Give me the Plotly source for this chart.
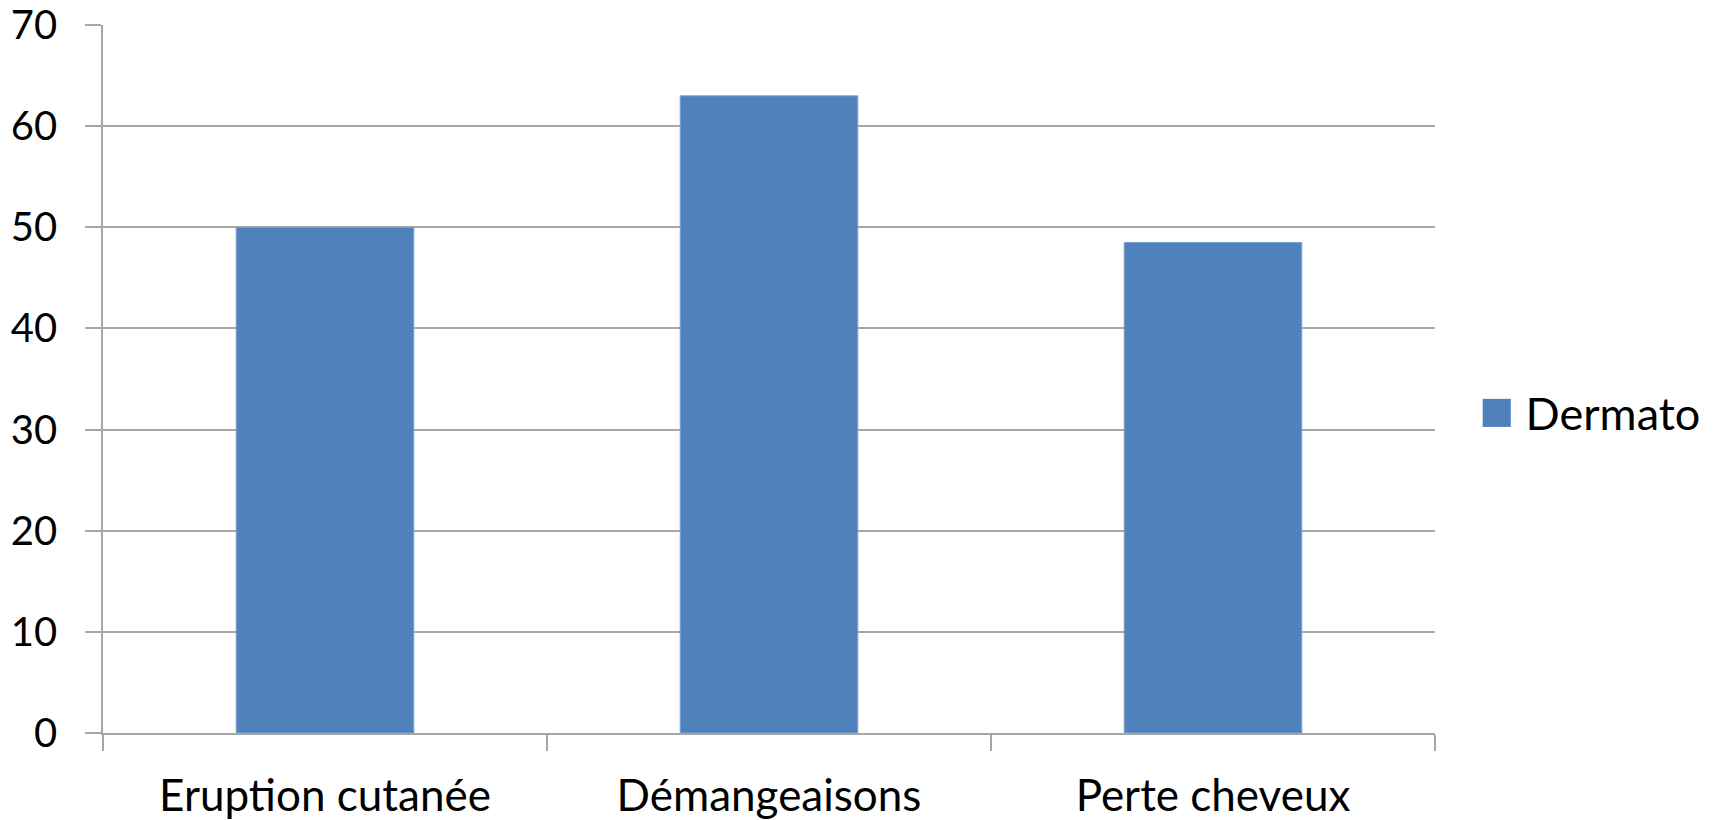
import plotly.graph_objects as go

categories = ["Eruption cutanée", "Démangeaisons", "Perte cheveux"]
values = [50, 63, 48.5]
series_name = "Dermato"
y_ticks = [0, 10, 20, 30, 40, 50, 60, 70]

FONT = "Lato"
BAR_COLOR = "#4F81BD"

fig = go.Figure()
fig.add_trace(go.Bar(
    x=categories, y=values, name=series_name, showlegend=False,
    marker=dict(color=BAR_COLOR, line=dict(color="#7EA0D0", width=1)),
    width=0.4,
))

# legend entry (large square key like the original)
fig.add_annotation(
    xref="paper", yref="paper", x=1.0315, y=0.46, xanchor="left", yanchor="middle",
    text=(f'<span style="color:{BAR_COLOR};font-size:58px">■</span>'
          f' {series_name}'),
    showarrow=False, font=dict(family=FONT, size=45, color="black"),
)

fig.update_layout(
    width=1715, height=820,
    margin=dict(l=103, r=280, t=25, b=87),
    paper_bgcolor="white", plot_bgcolor="white",
    font=dict(family=FONT, size=44, color="black"),
    showlegend=False,
)
fig.update_xaxes(
    type="category", showgrid=False, showline=True, linecolor="#a6a6a6", linewidth=1.5,
    ticks="outside", tickson="boundaries", ticklen=16, tickcolor="#a6a6a6", tickwidth=1.5,
    tickfont=dict(family=FONT, size=44), ticklabelstandoff=23, automargin=False,
    ticklabeloverflow="allow",
)
fig.update_yaxes(
    range=[0, 70], tickvals=y_ticks, showgrid=True, gridcolor="#a6a6a6", gridwidth=1.5,
    showline=True, linecolor="#a6a6a6", linewidth=1.5, zeroline=False,
    ticks="outside", ticklen=16, tickcolor="#a6a6a6", tickwidth=1.5,
    tickfont=dict(family=FONT, size=40), ticklabelstandoff=20, automargin=False,
    ticklabeloverflow="allow",
)

# remove the browser's default 8px body margin so the figure fills the window
fig.write_html("out.html", config={"displayModeBar": False},
               post_script="document.body.style.margin='0';")
